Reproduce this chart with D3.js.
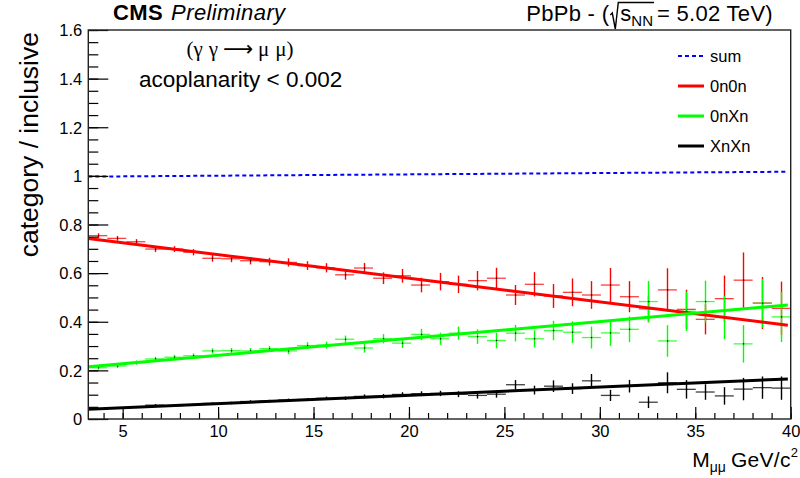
<!DOCTYPE html>
<html>
<head>
<meta charset="utf-8">
<script src="https://cdn.jsdelivr.net/npm/d3@7"></script>
<style>
	body { margin: 0; background: #fff; }
	text { font-family: "Liberation Sans", Arial, Helvetica, sans-serif; fill: #000; }
</style>
</head>
<body>
<svg id="chart" width="800" height="478"></svg>
<script>
// bin centres in GeV/c^2 (37 bins from 3.2 to 40)
const massBins = [3.70, 4.69, 5.69, 6.68, 7.68, 8.67, 9.67, 10.66, 11.65, 12.65, 13.64, 14.64, 15.63,
	16.63, 17.62, 18.62, 19.61, 20.61, 21.60, 22.59, 23.59, 24.58, 25.58, 26.57, 27.57, 28.56, 29.56,
	30.55, 31.55, 32.54, 33.54, 34.53, 35.52, 36.52, 37.51, 38.51, 39.50];
const binHalfWidth = 0.497;

const frac0n0n = [0.754, 0.743, 0.729, 0.699, 0.699, 0.686, 0.661, 0.659, 0.651, 0.647, 0.644, 0.631, 0.622,
	0.593, 0.621, 0.579, 0.589, 0.551, 0.565, 0.554, 0.569, 0.579, 0.510, 0.554, 0.506, 0.521, 0.510,
	0.551, 0.503, 0.453, 0.531, 0.451, 0.410, 0.495, 0.571, 0.477, 0.455];
const err0n0n = [0.010, 0.010, 0.011, 0.012, 0.012, 0.013, 0.014, 0.014, 0.015, 0.016, 0.017, 0.018, 0.019,
	0.020, 0.021, 0.024, 0.028, 0.030, 0.036, 0.036, 0.040, 0.043, 0.041, 0.050, 0.049, 0.057, 0.057,
	0.070, 0.064, 0.055, 0.089, 0.081, 0.062, 0.095, 0.114, 0.107, 0.110];

const frac0nXn = [0.211, 0.218, 0.232, 0.247, 0.254, 0.260, 0.280, 0.281, 0.280, 0.289, 0.280, 0.302, 0.304,
	0.328, 0.292, 0.330, 0.312, 0.348, 0.330, 0.353, 0.339, 0.323, 0.353, 0.330, 0.364, 0.357, 0.335,
	0.354, 0.369, 0.483, 0.321, 0.443, 0.483, 0.417, 0.309, 0.476, 0.420];
const err0nXn = [0.008, 0.008, 0.009, 0.009, 0.010, 0.010, 0.011, 0.011, 0.012, 0.012, 0.013, 0.014, 0.014,
	0.015, 0.019, 0.019, 0.020, 0.023, 0.025, 0.027, 0.030, 0.032, 0.034, 0.035, 0.040, 0.045, 0.045,
	0.053, 0.053, 0.085, 0.065, 0.081, 0.086, 0.089, 0.077, 0.100, 0.103];

const fracXnXn = [0.040, 0.045, 0.048, 0.057, 0.055, 0.059, 0.064, 0.066, 0.072, 0.074, 0.078, 0.080, 0.085,
	0.085, 0.093, 0.094, 0.101, 0.104, 0.105, 0.102, 0.097, 0.102, 0.141, 0.119, 0.135, 0.125, 0.157,
	0.097, 0.135, 0.069, 0.149, 0.122, 0.111, 0.095, 0.123, 0.129, 0.127];
const errXnXn = [0.003, 0.003, 0.003, 0.004, 0.004, 0.004, 0.004, 0.005, 0.005, 0.005, 0.006, 0.006, 0.007,
	0.007, 0.008, 0.009, 0.009, 0.010, 0.011, 0.012, 0.013, 0.014, 0.019, 0.018, 0.024, 0.022, 0.028,
	0.023, 0.026, 0.024, 0.043, 0.038, 0.032, 0.036, 0.046, 0.046, 0.048];

// straight-line fits, value at each end of fitRange
const fitRange = [3.2, 39.85];
const fit0n0n = [0.742, 0.386];
const fit0nXn = [0.215, 0.469];
const fitXnXn = [0.040, 0.165];
const fitSum = [0.997, 1.017];

const xTicks = [5, 10, 15, 20, 25, 30, 35, 40];
const yTicks = [0, 0.2, 0.4, 0.6, 0.8, 1, 1.2, 1.4, 1.6];
const legendLabels = ["sum", "0n0n", "0nXn", "XnXn"];

const frame = { left: 88.3, right: 790.7, top: 30, bottom: 419 };
const svg = d3.select("#chart");

const x = d3.scaleLinear().domain([3.2, 40]).range([frame.left, frame.right]);
const y = d3.scaleLinear().domain([0, 1.6]).range([frame.bottom, frame.top]);

/* error bars with a small dot at the centre */
function drawPoints(values, errors, color) {
	const g = svg.append("g");
	g.selectAll(".ex").data(values).enter().append("line")
		.attr("x1", (d, i) => x(massBins[i] - binHalfWidth))
		.attr("x2", (d, i) => x(massBins[i] + binHalfWidth))
		.attr("y1", d => y(d))
		.attr("y2", d => y(d))
		.attr("stroke", color)
		.attr("stroke-width", 1.3)
		.attr("opacity", 0.75);
	g.selectAll(".ey").data(values).enter().append("line")
		.attr("x1", (d, i) => Math.round(x(massBins[i])) + 0.5)
		.attr("x2", (d, i) => Math.round(x(massBins[i])) + 0.5)
		.attr("y1", (d, i) => y(d + errors[i]))
		.attr("y2", (d, i) => y(d - errors[i]))
		.attr("stroke", color)
		.attr("stroke-width", 1.4);
	g.selectAll(".dot").data(values).enter().append("rect")
		.attr("x", (d, i) => Math.round(x(massBins[i])))
		.attr("y", d => y(d) - 0.6)
		.attr("width", 1.2)
		.attr("height", 1.2)
		.attr("fill", "#000");
}

function drawFit(ends, color, width, dash) {
	svg.append("line")
		.attr("x1", x(fitRange[0]))
		.attr("x2", x(fitRange[1]))
		.attr("y1", y(ends[0]))
		.attr("y2", y(ends[1]))
		.attr("stroke", color)
		.attr("stroke-width", width)
		.attr("stroke-dasharray", dash || null);
}

drawPoints(frac0n0n, err0n0n, "#ff0000");
drawPoints(frac0nXn, err0nXn, "#00ff00");
drawPoints(fracXnXn, errXnXn, "#000000");

drawFit(fit0n0n, "#ff0000", 3);
drawFit(fit0nXn, "#00ff00", 3);
drawFit(fitXnXn, "#000000", 3);
drawFit(fitSum, "#0000ff", 2, "4,3");

// Axes
const yAxisG = svg.append("g")
	.attr("transform", "translate(" + frame.left + ",0)")
	.call(d3.axisLeft(y).tickValues(yTicks).tickSize(-20).tickPadding(6)
		.tickFormat(d => String(+d.toFixed(1))));
svg.append("g")
	.attr("transform", "translate(" + frame.left + ",0)")
	.call(d3.axisLeft(y).tickValues(d3.range(0, 1.6001, 0.05)).tickSize(-10).tickFormat(""));

const xAxisG = svg.append("g")
	.attr("transform", "translate(0," + frame.bottom + ")")
	.call(d3.axisBottom(x).tickValues(xTicks).tickSize(-12).tickPadding(6));
svg.append("g")
	.attr("transform", "translate(0," + frame.bottom + ")")
	.call(d3.axisBottom(x).tickValues(d3.range(4, 40.5, 1)).tickSize(-6).tickFormat(""));

svg.selectAll(".domain").remove();
svg.selectAll(".tick line").attr("stroke", "#000").attr("stroke-width", 1.2);
yAxisG.selectAll("text").style("font-size", "16.5px").attr("dy", "0.35em");
xAxisG.selectAll("text").style("font-size", "16.5px");

// frame
svg.append("rect")
	.attr("x", frame.left)
	.attr("y", frame.top)
	.attr("width", frame.right - frame.left)
	.attr("height", frame.bottom - frame.top)
	.attr("fill", "none")
	.attr("stroke", "#222")
	.attr("stroke-width", 1.4);

// axis titles
svg.append("text")
	.attr("transform", "translate(38," + (frame.top + 2) + ") rotate(-90)")
	.style("text-anchor", "end")
	.style("font-size", "26.5px")
	.text("category / inclusive");

// write a sequence of text pieces left to right, returns group and width
function pieces(parts, baseX, baseY) {
	const g = svg.append("g");
	let cx = 0;
	parts.forEach(p => {
		const t = g.append("text")
			.attr("x", cx)
			.attr("y", p.dy || 0)
			.style("font-size", p.size + "px")
			.style("font-family", p.family || null)
			.style("font-weight", p.weight || null)
			.style("font-style", p.style || null)
			.style("letter-spacing", p.spacing || null)
			.text(p.text);
		p.x0 = cx;
		p.w = t.node().getComputedTextLength();
		cx += p.w + (p.gap || 0);
	});
	g.attr("transform", "translate(" + baseX + "," + baseY + ")");
	return { g: g, width: cx };
}

const xTitle = pieces([
	{ text: "M", size: 21 },
	{ text: "μμ", size: 14, dy: 5, gap: 5 },
	{ text: "GeV/c", size: 21, spacing: "0.3px" },
	{ text: "2", size: 13, dy: -10 }
], 0, 467);
xTitle.g.attr("transform", "translate(" + (798 - xTitle.width) + ",467)");

// header texts
pieces([
	{ text: "CMS", size: 22, weight: "bold", gap: 8, spacing: "0.4px" },
	{ text: "Preliminary", size: 22, style: "italic", spacing: "0.4px" }
], 113, 20);

const sqrtParts = [
	{ text: "PbPb - (", size: 22, gap: 11, spacing: "0.3px" },
	{ text: "s", size: 22 },
	{ text: "NN", size: 15, dy: 5, gap: 4 },
	{ text: "= 5.02 TeV)", size: 22, spacing: "0.3px" }
];
const head = pieces(sqrtParts, 0, 21);
const hx = 773 - head.width;
head.g.attr("transform", "translate(" + hx + ",21)");
const rx = sqrtParts[1].x0 - 11;
head.g.append("path")
	.attr("d", "M" + (rx + 1) + ",-6 L" + (rx + 3) + ",-8 L" + (rx + 6) + ",8 L" + (rx + 9) + ",-18.5 L" +
		(sqrtParts[2].x0 + sqrtParts[2].w + 1) + ",-18.5")
	.attr("fill", "none")
	.attr("stroke", "#000")
	.attr("stroke-width", 1.4);

// process label, serif like the ROOT greek symbols
const serif = "'Liberation Serif', 'Times New Roman', serif";
const proc = pieces([
	{ text: "(γ", size: 21, family: serif, gap: 6 },
	{ text: "γ", size: 21, family: serif, gap: 5 },
	{ text: "⟶", size: 21, family: "'DejaVu Sans', sans-serif", gap: 5 },
	{ text: "μ", size: 21, family: serif, gap: 6 },
	{ text: "μ)", size: 21, family: serif }
], 0, 56);
proc.g.attr("transform", "translate(" + (240 - proc.width / 2) + ",56)");

svg.append("text")
	.attr("x", 139)
	.attr("y", 87)
	.style("font-size", "22.5px")
	.text("acoplanarity < 0.002");

// legend
const legendStyles = [
	{ color: "#0000ff", width: 2, dash: "4,3" },
	{ color: "#ff0000", width: 3 },
	{ color: "#00ff00", width: 3 },
	{ color: "#000000", width: 3 }
];
const legend = svg.append("g").selectAll("g").data(legendLabels).enter().append("g")
	.attr("transform", (d, i) => "translate(678," + (56 + i * 30) + ")");
legend.append("line")
	.attr("x1", 0).attr("x2", 26)
	.attr("stroke", (d, i) => legendStyles[i].color)
	.attr("stroke-width", (d, i) => legendStyles[i].width)
	.attr("stroke-dasharray", (d, i) => legendStyles[i].dash || null);
legend.append("text")
	.attr("x", 32)
	.attr("y", 6)
	.style("font-size", "16.5px")
	.text(d => d);
</script>
</body>
</html>
